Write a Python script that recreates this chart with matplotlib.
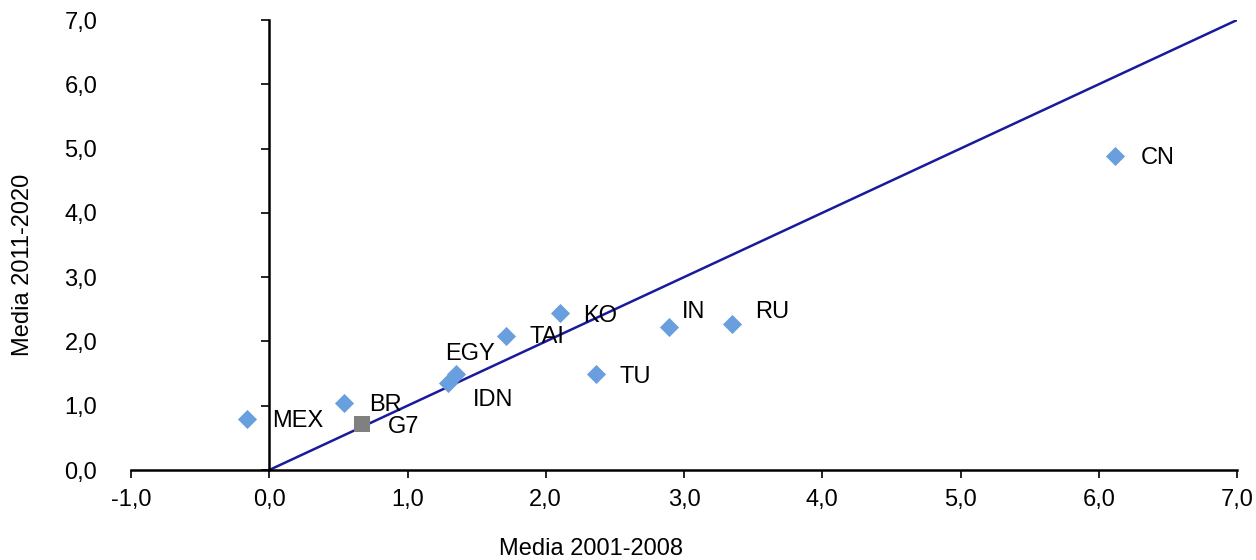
import matplotlib.pyplot as plt

plt.rcParams['font.family'] = ['Liberation Sans', 'DejaVu Sans']

# data
countries = ['MEX', 'BR', 'IDN', 'EGY', 'TAI', 'KO', 'TU', 'IN', 'RU', 'CN']
media_2001_2008 = [-0.16, 0.54, 1.29, 1.35, 1.71, 2.10, 2.36, 2.89, 3.35, 6.12]
media_2011_2020 = [0.79, 1.04, 1.35, 1.49, 2.08, 2.44, 1.49, 2.22, 2.27, 4.88]
g7_x = [0.67]
g7_y = [0.72]

# label offsets in pixels (dx, dy up)
offsets_px = {'MEX': (25, -2), 'BR': (25, -2), 'IDN': (25, -17), 'EGY': (-11, 20),
              'TAI': (24, -1), 'KO': (24, -3), 'TU': (24, -3), 'IN': (13, 15),
              'RU': (23, 12), 'CN': (25, -2)}

pt = 0.72
fs = 17
fig = plt.figure(figsize=(12.56, 5.6), dpi=100)
ax = fig.add_axes([131/1256, 90/560, (1237-131)/1256, 450/560])

ax.plot([0, 7], [0, 7], color='#1a1a9c', lw=1.8, zorder=2)
ax.scatter(media_2001_2008, media_2011_2020, marker='D', s=95, color='#6a9fdf', zorder=3, linewidths=0)
ax.scatter(g7_x, g7_y, marker='s', s=130, color='#808080', zorder=3, linewidths=0)

for name, x, y in zip(countries, media_2001_2008, media_2011_2020):
    dx, dy = offsets_px[name]
    ax.annotate(name, (x, y), xytext=(dx*pt, dy*pt), textcoords='offset points',
                fontsize=fs, va='center', ha='left')
ax.annotate('G7', (g7_x[0], g7_y[0]), xytext=(26*pt, -3*pt), textcoords='offset points',
            fontsize=fs, va='center', ha='left')

ax.set_xlim(-1, 7)
ax.set_ylim(0, 7)
ax.set_xticks(range(-1, 8))
ax.set_xticklabels([f'{v},0' for v in range(-1, 8)])
ax.set_yticks(range(0, 8))
ax.set_yticklabels([f'{v},0' for v in range(0, 8)])

for s in ['top', 'right']:
    ax.spines[s].set_visible(False)
ax.spines['left'].set_position(('data', 0))
ax.spines['left'].set_linewidth(1.8)
ax.spines['bottom'].set_linewidth(1.8)
ax.tick_params(axis='both', labelsize=fs, width=1.2, length=8*pt, direction='out')
ax.tick_params(axis='y', pad=(172-8)*pt)
ax.tick_params(axis='x', pad=8)

fig.text(591/1256, 1-549/560, 'Media 2001-2008', ha='center', va='center', fontsize=fs)
fig.text(23/1256, 1-265/560, 'Media 2011-2020', ha='center', va='center', fontsize=fs, rotation=90)

fig.savefig('out.png', dpi=100)
